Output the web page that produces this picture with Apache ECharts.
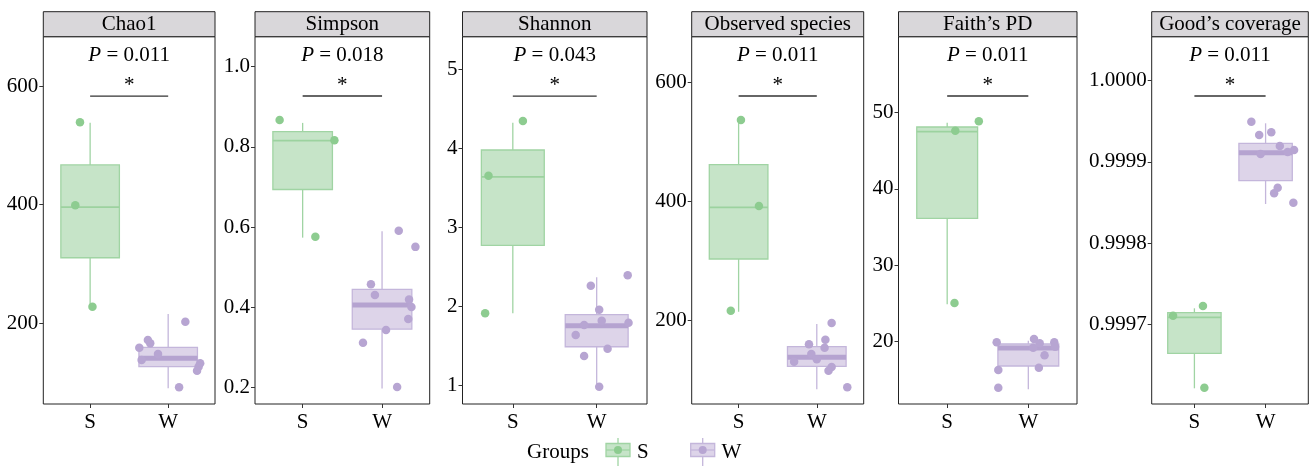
<!DOCTYPE html>
<html><head><meta charset="utf-8">
<script src="https://cdn.jsdelivr.net/npm/echarts@6/dist/echarts.min.js"></script>
<style>html,body{margin:0;padding:0;background:#fff}#c{width:1314px;height:467px}</style>
</head><body><div id="c"></div>
<script>
// ---------------- DATA ----------------
const metrics = ['Chao1', 'Simpson', 'Shannon', 'Observed species', "Faith\u2019s PD", "Good\u2019s coverage"];
const groups = ['S', 'W'];
const pValues = ['0.011', '0.018', '0.043', '0.011', '0.011', '0.011'];
const sigMarks = ['*', '*', '*', '*', '*', '*'];

// box stats: [lower whisker, Q1, median, Q3, upper whisker]
const chao1BoxS = [229, 310.5, 396, 467, 538];
const chao1BoxW = [90.5, 127, 141, 159.6, 215.7];
const simpsonBoxS = [0.574, 0.694, 0.816, 0.838, 0.860];
const simpsonBoxW = [0.198, 0.346, 0.406, 0.445, 0.590];
const shannonBoxS = [1.915, 2.775, 3.64, 3.98, 4.325];
const shannonBoxW = [0.99, 1.493, 1.759, 1.90, 2.37];
const observedBoxS = [215, 303.7, 390.6, 462.2, 536];
const observedBoxW = [84.7, 123.4, 138.5, 156.3, 194.5];
const faithBoxS = [24.89, 36.14, 47.46, 48.08, 48.64];
const faithBoxW = [13.78, 16.82, 19.18, 19.70, 20.13];
const goodBoxS = [0.99962118, 0.99966429, 0.99970862, 0.99971429, 0.99971970];
const goodBoxW = [0.99984815, 0.99987685, 0.99991125, 0.99992278, 0.99994754];

// samples: [jitter offset from group position, value]
const chao1PtsS = [[-0.13, 538.7], [-0.19, 398.8], [0.03, 228]];
const chao1PtsW = [[0.22, 202.7], [-0.26, 171.9], [-0.23, 166.3], [-0.37, 158.9], [-0.13, 148.3], [-0.34, 138.2], [0.41, 132.6], [0.39, 126.9], [0.37, 120.1], [0.14, 92.2]];
const simpsonPtsS = [[-0.29, 0.867], [0.40, 0.817], [0.16, 0.576]];
const simpsonPtsW = [[0.21, 0.591], [0.42, 0.551], [-0.14, 0.458], [-0.09, 0.431], [0.34, 0.420], [0.37, 0.401], [0.33, 0.371], [0.05, 0.344], [-0.24, 0.312], [0.19, 0.202]];
const shannonPtsS = [[-0.29, 3.655], [0.12, 4.346], [-0.33, 1.915]];
const shannonPtsW = [[0.37, 2.396], [-0.07, 2.264], [0.03, 1.961], [0.06, 1.822], [0.38, 1.797], [-0.15, 1.767], [-0.25, 1.641], [0.13, 1.468], [-0.15, 1.376], [0.03, 0.987]];
const observedPtsS = [[0.03, 537.3], [0.26, 392.8], [-0.10, 216.8]];
const observedPtsW = [[0.19, 196.1], [0.11, 168.1], [-0.10, 160.3], [0.10, 154.6], [-0.07, 144.0], [0.00, 135.1], [-0.29, 131.1], [0.19, 122.2], [0.15, 116.0], [0.39, 88.1]];
const faithPtsS = [[0.10, 47.59], [0.39, 48.82], [0.09, 25.06]];
const faithPtsW = [[-0.39, 19.92], [0.07, 20.35], [0.06, 19.22], [0.14, 19.79], [0.32, 19.92], [0.33, 19.35], [0.20, 18.22], [-0.37, 16.30], [0.13, 16.60], [-0.37, 13.98]];
const goodPtsS = [[-0.30, 0.99971059], [0.12, 0.99972254], [0.14, 0.99962192]];
const goodPtsW = [[-0.20, 0.99994951], [-0.09, 0.99993313], [0.08, 0.99993645], [0.20, 0.99991958], [0.40, 0.99991466], [-0.07, 0.99990973], [0.31, 0.99991226], [0.17, 0.99986823], [0.12, 0.99986133], [0.39, 0.99984975]];

// y-axis ticks
const chao1Ticks = [200, 400, 600];
const chao1TickLabels = ['200', '400', '600'];
const simpsonTicks = [0.2, 0.4, 0.6, 0.8, 1.0];
const simpsonTickLabels = ['0.2', '0.4', '0.6', '0.8', '1.0'];
const shannonTicks = [1, 2, 3, 4, 5];
const shannonTickLabels = ['1', '2', '3', '4', '5'];
const observedTicks = [200, 400, 600];
const observedTickLabels = ['200', '400', '600'];
const faithTicks = [20, 30, 40, 50];
const faithTickLabels = ['20', '30', '40', '50'];
const goodTicks = [0.9997, 0.9998, 0.9999, 1.0];
const goodTickLabels = ['0.9997', '0.9998', '0.9999', '1.0000'];

// axis ranges and significance bar level
const yMins = [64.0, 0.1594, 0.769, 60.0, 11.853, 0.99960185];
const yMaxs = [683.1, 1.0748, 5.412, 677.3, 59.886, 1.0000542];
const sigLevels = [583.1, 0.927, 4.662, 577.6, 52.13, 0.99998116];

// ---------------- LAYOUT / STYLE ----------------
const boxesS = [chao1BoxS, simpsonBoxS, shannonBoxS, observedBoxS, faithBoxS, goodBoxS];
const boxesW = [chao1BoxW, simpsonBoxW, shannonBoxW, observedBoxW, faithBoxW, goodBoxW];
const ptsS = [chao1PtsS, simpsonPtsS, shannonPtsS, observedPtsS, faithPtsS, goodPtsS];
const ptsW = [chao1PtsW, simpsonPtsW, shannonPtsW, observedPtsW, faithPtsW, goodPtsW];
const ticks = [chao1Ticks, simpsonTicks, shannonTicks, observedTicks, faithTicks, goodTicks];
const tickLabels = [chao1TickLabels, simpsonTickLabels, shannonTickLabels, observedTickLabels, faithTickLabels, goodTickLabels];

const panelLeft = [43.3, 255, 462.5, 691.7, 898.5, 1151.7];
const panelWidth = [171.7, 174.7, 184.5, 172, 178.5, 156.6];
const panelTop = 36.7, panelHeight = 367.3, stripTop = 11.7;

const FONT = "'Liberation Serif', 'Times New Roman', serif";
const FS = 21;
const TXT = '#000';
const groupStyle = [
  { fill: 'rgb(198,228,200)', line: '#a0d4a3', median: '#9cd29f', medW: 1.8, pt: '#8dcc90' },
  { fill: 'rgb(221,212,233)', line: '#c4b6db', median: '#b5a3d0', medW: 5, pt: '#b7a5d2' }
];

function renderBox(params, api) {
  const x = api.value(0), lo = api.value(1), q1 = api.value(2), med = api.value(3), q3 = api.value(4), hi = api.value(5);
  const st = groupStyle[api.value(6)];
  const hw = 0.375;
  const a = api.coord([x, lo]), b = api.coord([x, hi]);
  const l1 = api.coord([x - hw, q1]), r3 = api.coord([x + hw, q3]);
  const ml = api.coord([x - hw, med]), mr = api.coord([x + hw, med]);
  return { type: 'group', children: [
    { type: 'line', shape: { x1: a[0], y1: a[1], x2: a[0], y2: l1[1] }, style: { stroke: st.line, lineWidth: 1.3 } },
    { type: 'line', shape: { x1: b[0], y1: b[1], x2: b[0], y2: r3[1] }, style: { stroke: st.line, lineWidth: 1.3 } },
    { type: 'rect', shape: { x: l1[0], y: r3[1], width: r3[0] - l1[0], height: l1[1] - r3[1] }, style: { fill: st.fill, stroke: st.line, lineWidth: 1.3 } },
    { type: 'line', shape: { x1: ml[0], y1: ml[1], x2: mr[0], y2: mr[1] }, style: { stroke: st.median, lineWidth: st.medW } }
  ]};
}

const grid = [], xAxis = [], yAxis = [], series = [], graphic = [];
for (let i = 0; i < metrics.length; i++) {
  grid.push({ left: panelLeft[i], top: panelTop, width: panelWidth[i], height: panelHeight,
    show: true, borderColor: '#222', borderWidth: 1, backgroundColor: '#fff' });
  xAxis.push({ type: 'value', gridIndex: i, min: 0.4, max: 2.6,
    splitLine: { show: false }, axisLine: { show: false },
    axisTick: { show: true, length: 4, customValues: [1, 2], lineStyle: { color: '#333' } },
    axisLabel: { customValues: [1, 2], margin: 8, formatter: v => groups[Math.round(v) - 1],
      fontFamily: FONT, fontSize: FS, color: TXT } });
  const tk = ticks[i], tl = tickLabels[i];
  yAxis.push({ type: 'value', gridIndex: i, min: yMins[i], max: yMaxs[i],
    splitLine: { show: false }, axisLine: { show: false },
    axisTick: { show: true, length: 4, customValues: tk, lineStyle: { color: '#333' } },
    axisLabel: { customValues: tk, margin: 5, fontFamily: FONT, fontSize: FS, color: TXT,
      formatter: v => { let k = 0; for (let j = 0; j < tk.length; j++) if (Math.abs(tk[j] - v) < Math.abs(tk[k] - v)) k = j; return tl[k]; } } });

  const boxData = [
    [1].concat(boxesS[i]).concat([0]),
    [2].concat(boxesW[i]).concat([1])
  ];
  series.push({ type: 'custom', xAxisIndex: i, yAxisIndex: i, renderItem: renderBox, data: boxData, z: 2, silent: true });
  series.push({ type: 'scatter', xAxisIndex: i, yAxisIndex: i, symbolSize: 8.5, z: 3, silent: true,
    itemStyle: { color: groupStyle[0].pt, opacity: 1 }, data: ptsS[i].map(p => [1 + p[0], p[1]]) });
  series.push({ type: 'scatter', xAxisIndex: i, yAxisIndex: i, symbolSize: 8.5, z: 3, silent: true,
    itemStyle: { color: groupStyle[1].pt, opacity: 1 }, data: ptsW[i].map(p => [2 + p[0], p[1]]) });
  series.push({ type: 'line', xAxisIndex: i, yAxisIndex: i, symbol: 'none', z: 4, silent: true,
    lineStyle: { color: '#333', width: 1.3 }, data: [[1, sigLevels[i]], [2, sigLevels[i]]] });
  series.push({ type: 'scatter', xAxisIndex: i, yAxisIndex: i, symbolSize: 0, z: 5, silent: true,
    itemStyle: { opacity: 1 },
    data: [[1.5, sigLevels[i]]],
    label: { show: true, position: 'inside', offset: [0, -10.5], formatter: sigMarks[i], opacity: 1,
      fontFamily: FONT, fontSize: FS, color: TXT } });
  series.push({ type: 'scatter', xAxisIndex: i, yAxisIndex: i, symbolSize: 0, z: 5, silent: true,
    itemStyle: { opacity: 1 },
    data: [[1.5, sigLevels[i]]],
    label: { show: true, position: 'inside', offset: [0, -41], formatter: '{i|P}{n| = ' + pValues[i] + '}', opacity: 1,
      rich: { i: { fontFamily: FONT, fontSize: FS, fontStyle: 'italic', color: TXT },
              n: { fontFamily: FONT, fontSize: FS, color: TXT } } } });

  // facet strip
  graphic.push({ type: 'rect', silent: true, z: 10,
    shape: { x: panelLeft[i], y: stripTop, width: panelWidth[i], height: panelTop - stripTop },
    style: { fill: '#d9d7da', stroke: '#222', lineWidth: 1 } });
  graphic.push({ type: 'text', silent: true, z: 11,
    x: panelLeft[i] + panelWidth[i] / 2, y: (stripTop + panelTop) / 2 + 0.5,
    style: { text: metrics[i], fontFamily: FONT, fontSize: FS, fill: TXT, align: 'center', verticalAlign: 'middle' } });
}

// legend
const legY = 452;
graphic.push({ type: 'text', silent: true, x: 527, y: legY,
  style: { text: 'Groups', fontFamily: FONT, fontSize: FS, fill: TXT, align: 'left', verticalAlign: 'middle' } });
const legKeyX = [606, 690.7], legLabelX = [637, 721.5];
for (let g = 0; g < 2; g++) {
  const st = groupStyle[g], cx = legKeyX[g] + 12;
  graphic.push({ type: 'line', silent: true, shape: { x1: cx, y1: 438, x2: cx, y2: 466 }, style: { stroke: st.line, lineWidth: 1.3 } });
  graphic.push({ type: 'rect', silent: true, shape: { x: legKeyX[g], y: 443.5, width: 24, height: 13 }, style: { fill: st.fill, stroke: st.line, lineWidth: 1.3 } });
  graphic.push({ type: 'line', silent: true, shape: { x1: legKeyX[g], y1: 450, x2: legKeyX[g] + 24, y2: 450 }, style: { stroke: st.line, lineWidth: 1.3 } });
  graphic.push({ type: 'circle', silent: true, shape: { cx: cx, cy: 450, r: 4 }, style: { fill: st.pt } });
  graphic.push({ type: 'text', silent: true, x: legLabelX[g], y: legY,
    style: { text: groups[g], fontFamily: FONT, fontSize: FS, fill: TXT, align: 'left', verticalAlign: 'middle' } });
}

const chart = echarts.init(document.getElementById('c'), null, { renderer: 'canvas' });
chart.setOption({ animation: false, backgroundColor: '#fff', grid, xAxis, yAxis, series, graphic });
</script></body></html>
